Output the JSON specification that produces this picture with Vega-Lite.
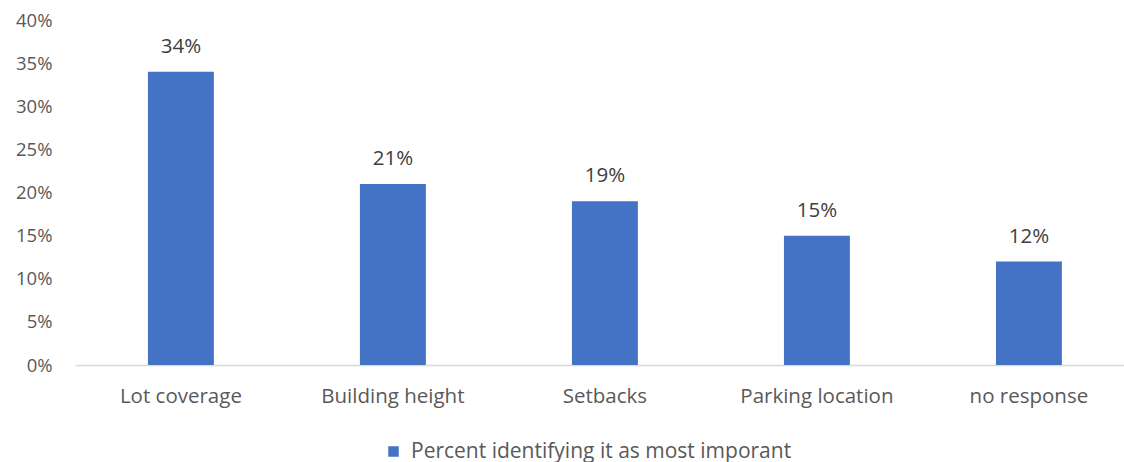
{
  "$schema": "https://vega.github.io/schema/vega-lite/v6.json",
  "width": 1049,
  "height": 345,
  "autosize": {"type": "none"},
  "padding": {"left": 75, "top": 20, "right": 0, "bottom": 97},
  "background": "#ffffff",
  "config": {"view": {"stroke": null}, "font": "Open Sans"},
  "data": {
    "values": [
      {"category": "Lot coverage", "value": 0.34},
      {"category": "Building height", "value": 0.21},
      {"category": "Setbacks", "value": 0.19},
      {"category": "Parking location", "value": 0.15},
      {"category": "no response", "value": 0.12}
    ]
  },
  "encoding": {
    "x": {
      "field": "category",
      "type": "nominal",
      "sort": null,
      "title": null,
      "scale": {"paddingInner": 0.689, "paddingOuter": 0.3185, "align": 0.54},
      "axis": {
        "labelAngle": 0,
        "ticks": false,
        "domainColor": "#d9d9d9",
        "domainWidth": 1.5,
        "labelColor": "#595959",
        "labelFontSize": 20.5,
        "labelPadding": 21,
        "labelFont": "Open Sans",
        "labelLimit": 0
      }
    },
    "y": {
      "field": "value",
      "type": "quantitative",
      "title": null,
      "scale": {"domain": [0, 0.4]},
      "axis": {
        "values": [0, 0.05, 0.1, 0.15, 0.2, 0.25, 0.3, 0.35, 0.4],
        "format": ".0%",
        "grid": false,
        "ticks": false,
        "domain": false,
        "labelColor": "#595959",
        "labelFontSize": 18.5,
        "labelPadding": 23,
        "labelFont": "Open Sans"
      }
    }
  },
  "layer": [
    {
      "mark": {"type": "bar", "color": "#4472C4"},
      "encoding": {
        "color": {
          "datum": "Percent identifying it as most imporant",
          "type": "nominal",
          "scale": {"range": ["#4472C4"]},
          "legend": {
            "title": null,
            "orient": "none",
            "legendX": 308,
            "legendY": 421,
            "symbolType": "square",
            "symbolSize": 110,
            "symbolStrokeWidth": 0,
            "labelFontSize": 21,
            "labelColor": "#595959",
            "labelFont": "Open Sans",
            "labelOffset": 7,
            "labelLimit": 0,
            "padding": 0
          }
        }
      }
    },
    {
      "mark": {"type": "text", "baseline": "alphabetic", "dy": -19, "fontSize": 20.5, "color": "#404040", "font": "Open Sans"},
      "encoding": {
        "text": {"field": "value", "type": "quantitative", "format": ".0%"}
      }
    }
  ]
}
